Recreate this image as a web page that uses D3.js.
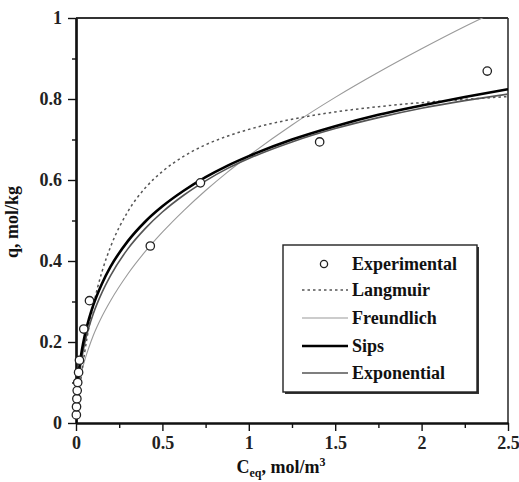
<!DOCTYPE html>
<html>
<head>
<meta charset="utf-8">
<script src="https://cdn.jsdelivr.net/npm/d3@7"></script>
<style>
	body { margin: 0; background: #fff; }
	text { font-family: "Liberation Serif", "Times New Roman", serif; font-weight: bold; fill: #111; }
</style>
</head>
<body>
<div id="chart"></div>
<script>
// concentration grid used for the fitted curves
var cGrid = [0, 0.005, 0.01, 0.02, 0.035, 0.05, 0.075, 0.1, 0.15, 0.2, 0.3, 0.4, 0.5, 0.625, 0.75, 0.875, 1.0, 1.25, 1.5, 1.75, 2.0, 2.25, 2.5];

var langmuir    = [0, 0.021, 0.041, 0.079, 0.130, 0.174, 0.237, 0.290, 0.373, 0.435, 0.522, 0.580, 0.621, 0.659, 0.687, 0.708, 0.725, 0.750, 0.768, 0.781, 0.791, 0.799, 0.806];
var freundlich  = [0, 0.050, 0.070, 0.099, 0.130, 0.154, 0.187, 0.216, 0.263, 0.302, 0.368, 0.423, 0.471, 0.525, 0.574, 0.619, 0.660, 0.736, 0.804, 0.866, 0.924, 0.979, 1.030];
var sips        = [0, 0.070, 0.099, 0.140, 0.182, 0.215, 0.257, 0.291, 0.344, 0.386, 0.449, 0.497, 0.535, 0.574, 0.607, 0.635, 0.659, 0.700, 0.733, 0.761, 0.784, 0.805, 0.824];
var exponential = [0, 0.060, 0.085, 0.122, 0.163, 0.196, 0.237, 0.270, 0.322, 0.364, 0.430, 0.480, 0.521, 0.563, 0.598, 0.628, 0.653, 0.694, 0.727, 0.754, 0.777, 0.796, 0.812];

// experimental points
var expC = [0.002, 0.003, 0.005, 0.007, 0.010, 0.015, 0.020, 0.045, 0.078, 0.43, 0.72, 1.41, 2.38];
var expQ = [0.020, 0.040, 0.060, 0.080, 0.100, 0.125, 0.155, 0.232, 0.302, 0.437, 0.593, 0.694, 0.869];

var xTicks = [0, 0.5, 1, 1.5, 2, 2.5];
var yTicks = [0, 0.2, 0.4, 0.6, 0.8, 1];
var legendNames = ["Experimental", "Langmuir", "Freundlich", "Sips", "Exponential"];

var width = 519, height = 482;
var svg = d3.select("#chart").append("svg")
	.attr("width", width)
	.attr("height", height);

var x = d3.scaleLinear().domain([0, 2.5]).range([76, 508]);
var y = d3.scaleLinear().domain([0, 1]).range([423, 18]);

svg.append("clipPath").attr("id", "plotclip")
	.append("rect")
	.attr("x", x(0)).attr("y", y(1))
	.attr("width", x(2.5) - x(0)).attr("height", y(0) - y(1));

// frame: top and right sides
svg.append("line").attr("x1", x(0)).attr("x2", x(2.5)).attr("y1", y(1)).attr("y2", y(1))
	.style("stroke", "#333").style("stroke-width", 2);
svg.append("line").attr("x1", x(2.5)).attr("x2", x(2.5)).attr("y1", y(1)).attr("y2", y(0))
	.style("stroke", "#333").style("stroke-width", 1.6);

// axes: major ticks with labels, minor ticks without
function styleAxis(g) {
	g.select(".domain").style("stroke", "#111").style("stroke-width", 2.2);
	g.selectAll(".tick line").style("stroke", "#111").style("stroke-width", 1.4);
	g.selectAll(".tick text").style("font-family", "'Liberation Serif', serif")
		.style("font-weight", "bold").style("font-size", "18px").style("fill", "#222");
}

var xMinor = svg.append("g").attr("transform", "translate(0," + y(0) + ")")
	.call(d3.axisBottom(x).tickValues(d3.range(0.25, 2.5, 0.5)).tickSize(5).tickFormat("").tickSizeOuter(0));
styleAxis(xMinor);
var xAxis = svg.append("g").attr("transform", "translate(0," + y(0) + ")")
	.call(d3.axisBottom(x).tickValues(xTicks).tickSize(8).tickSizeOuter(0).tickPadding(5)
		.tickFormat(function(d){ return d3.format("")(d); }));
styleAxis(xAxis);

var yMinor = svg.append("g").attr("transform", "translate(" + x(0) + ",0)")
	.call(d3.axisLeft(y).tickValues([0.1, 0.3, 0.5, 0.7, 0.9]).tickSize(4).tickFormat("").tickSizeOuter(0));
styleAxis(yMinor);
var yAxis = svg.append("g").attr("transform", "translate(" + x(0) + ",0)")
	.call(d3.axisLeft(y).tickValues(yTicks).tickSize(8).tickSizeOuter(0).tickPadding(6)
		.tickFormat(function(d){ return d3.format("")(d); }));
styleAxis(yAxis);

// axis titles
var xt = svg.append("text").attr("x", 281).attr("y", 473).attr("text-anchor", "middle").style("font-size", "18px");
xt.append("tspan").text("C");
xt.append("tspan").attr("dy", 4).style("font-size", "12px").text("eq");
xt.append("tspan").attr("dy", -4).text(", mol/m");
xt.append("tspan").attr("dy", -7).style("font-size", "12px").text("3");

svg.append("text")
	.attr("transform", "translate(18,222) rotate(-90)")
	.attr("text-anchor", "middle")
	.style("font-size", "18px")
	.text("q, mol/kg");

// curves
var series = [
	{name: "Freundlich",  q: freundlich,  color: "#9a9a9a", w: 1.1, dash: null},
	{name: "Exponential", q: exponential, color: "#555",    w: 1.6, dash: null},
	{name: "Langmuir",    q: langmuir,    color: "#555",    w: 1.5, dash: "2.5,3"},
	{name: "Sips",        q: sips,        color: "#000",    w: 2.6, dash: null}
];

var line = d3.line()
	.x(function(d){ return x(d[0]); })
	.y(function(d){ return y(d[1]); })
	.curve(d3.curveMonotoneX);

var plot = svg.append("g").attr("clip-path", "url(#plotclip)");
plot.selectAll(".fit")
	.data(series)
	.enter().append("path")
	.attr("class", "fit")
	.attr("d", function(s){ return line(cGrid.map(function(c, i){ return [c, s.q[i]]; })); })
	.style("fill", "none")
	.style("stroke", function(s){ return s.color; })
	.style("stroke-width", function(s){ return s.w; })
	.style("stroke-dasharray", function(s){ return s.dash; });

svg.selectAll(".pt")
	.data(expC.map(function(c, i){ return {c: c, q: expQ[i]}; }))
	.enter().append("circle")
	.attr("class", "pt")
	.attr("cx", function(d){ return x(d.c); })
	.attr("cy", function(d){ return y(d.q); })
	.attr("r", 4.2)
	.style("fill", "#fff")
	.style("stroke", "#222")
	.style("stroke-width", 1.3);

// legend
var lg = svg.append("g");
lg.append("rect").attr("x", 285).attr("y", 247).attr("width", 194).attr("height", 147).style("fill", "#333");
lg.append("rect").attr("x", 283).attr("y", 245).attr("width", 194).attr("height", 147)
	.style("fill", "#fff").style("stroke", "#222").style("stroke-width", 1.4);

var rowY = [264, 290, 318, 346, 373];
var legendStyle = [null, series[2], series[0], series[3], series[1]];
legendNames.forEach(function(name, i) {
	if (i === 0) {
		lg.append("circle").attr("cx", 324).attr("cy", rowY[i]).attr("r", 3.6)
			.style("fill", "#fff").style("stroke", "#222").style("stroke-width", 1.3);
	} else {
		var s = legendStyle[i];
		lg.append("line").attr("x1", 302).attr("x2", 348).attr("y1", rowY[i]).attr("y2", rowY[i])
			.style("stroke", s.color).style("stroke-width", s.w).style("stroke-dasharray", s.dash);
	}
	lg.append("text").attr("x", 352).attr("y", rowY[i] + 6).style("font-size", "18px").text(name);
});
</script>
</body>
</html>
